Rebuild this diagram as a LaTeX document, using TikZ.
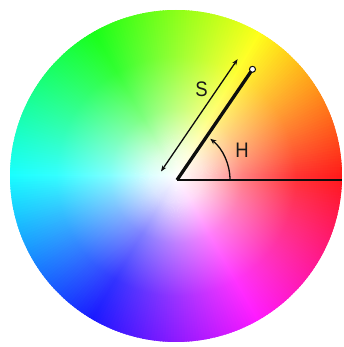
\documentclass[tikz,border=0pt]{standalone}
\usepackage{fontspec}
\setmainfont{Liberation Sans}
\usetikzlibrary{fadings,arrows.meta,calc}
\pgfdeclareradialshading{satsh}{\pgfpointorigin}{color(0bp)=(pgftransparent!0); color(4bp)=(pgftransparent!15); color(10bp)=(pgftransparent!50); color(18bp)=(pgftransparent!80); color(28bp)=(pgftransparent!95); color(40bp)=(pgftransparent!100); color(50bp)=(pgftransparent!100)}
\pgfdeclarefading{satfade}{\pgfuseshading{satsh}}
\tikzset{
  ink/.style={draw=black!95, line width=1.3pt},
  lbl/.style={font=\fontsize{21}{21}\selectfont, text=black!90, inner sep=0pt},
}
\begin{document}
\begin{tikzpicture}[x=1pt,y=1pt]
\fill[white] (-176,-171) rectangle (168,176);
\useasboundingbox (-176,-171) rectangle (168,176);
% hue wheel
\foreach \a in {0,1,...,359}{
  \definecolor{wc}{Hsb}{\a,1,1}
  \fill[wc] (0,0) -- (\a-0.8:166) arc[start angle=\a-0.8, end angle=\a+0.8, radius=166] -- cycle;
}
% saturation (white towards centre)
\fill[white, path fading=satfade] (0,0) circle (166);
% annotations
\coordinate (V) at (1,-4);
\coordinate (E) at (76.5,106.7);
\coordinate (R) at (166,-4);
\coordinate (S1) at (-15,4.5);
\coordinate (S2) at (61.6,116.8);
\coordinate (A0) at (54,-4);
\draw[ink] (V) -- (R);
\draw[ink, line width=3.3pt] (V) -- (E);
\node[circle, draw=black!95, fill=white, inner sep=0pt, minimum size=6pt, line width=1pt] (P) at (E) {};
\draw[ink, {Stealth[length=6pt,width=4.5pt]}-{Stealth[length=6pt,width=4.5pt]}] (S1) -- (S2);
\draw[ink, -{Stealth[length=6pt,width=5pt]}] (A0) arc[start angle=0, end angle=51, radius=53];
\node[lbl] (S) at (25.5,86.5) {\scalebox{0.88}[1]{S}};
\node[lbl] (H) at (66,25.5) {\scalebox{0.88}[1]{H}};
\end{tikzpicture}
\end{document}
